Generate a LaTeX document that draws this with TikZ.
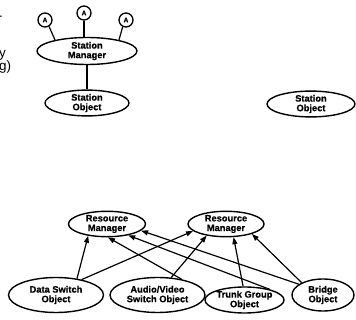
\documentclass[tikz,border=0pt]{standalone}
\usepackage{fontspec}
\setmainfont{Liberation Sans}
\newfontfamily\labelfont{Liberation Sans}[BoldFeatures={FakeBold=0.6}]
\usetikzlibrary{shapes.geometric,arrows.meta}
\begin{document}
\begin{tikzpicture}[x=1pt,y=-1pt,
  obj/.style={ellipse,draw,line width=1.4pt,inner sep=0pt,align=center,
    font=\labelfont\fontsize{9.3}{9.6}\selectfont\bfseries},
  port/.style={circle,draw,line width=1.3pt,minimum size=14pt,inner sep=0pt,
    font=\labelfont\fontsize{6.5}{6.5}\selectfont\bfseries},
  link/.style={line width=1.2pt},
  uses/.style={line width=1.2pt,-{Triangle[length=7pt,width=5pt]}},
  frag/.style={anchor=base west,inner sep=0pt,font=\fontsize{13.5}{14}\selectfont}]
\fill[white] (0,0) rectangle (356,320);
\useasboundingbox (0,0) rectangle (356,320);

% cut-off caption text at the left edge
\node[frag] (t0) at (-1,18) {.};
\node[frag] (t1) at (-1,58) {y};
\node[frag] (t2) at (-1,71) {g)};

% station side
\node[port] (c1) at (45,20) {A};
\node[port] (c2) at (84,13) {A};
\node[port] (c3) at (126,20) {A};
\node[obj,minimum width=100pt,minimum height=27pt] (sm) at (87,51) {Station\\Manager};
\node[obj,minimum width=84pt,minimum height=25pt] (so) at (87,103) {Station\\Object};
\node[obj,minimum width=88pt,minimum height=24pt] (so2) at (311,104) {Station\\Object};

\draw[link] (c1.302) -- (sm.161);
\draw[link] (c2.south) -- (c2.south |- sm.north);
\draw[link] (c3.244) -- (sm.19);
\draw[link] (sm.south) -- (so.north);

% resource side
\node[obj,minimum width=77pt,minimum height=25pt] (rm1) at (107,224) {Resource\\Manager};
\node[obj,minimum width=76pt,minimum height=24pt] (rm2) at (226,224) {Resource\\Manager};
\node[obj,minimum width=95pt,minimum height=35pt] (ds) at (56,295) {Data Switch\\Object};
\node[obj,minimum width=95pt,minimum height=35pt] (av) at (157.5,295) {Audio/Video\\Switch Object};
\node[obj,minimum width=79pt,minimum height=26pt] (tg) at (244.5,300) {Trunk Group\\Object};
\node[obj,minimum width=62pt,minimum height=32pt] (br) at (323,295) {Bridge\\Object};

\draw[uses] (ds.38.7) -- (rm1.212.9);
\draw[uses] (ds.31.6) -- (rm2.192.5);
\draw[uses] (av.52) -- (rm2.211.4);
\draw[uses] (av.33.7) -- (rm1.274.4);
\draw[uses] (tg.23) -- (rm1.332.4);
\draw[uses] (br.156.5) -- (rm1.349.7);
\draw[uses] (tg.96.6) -- (rm2.300);
\draw[uses] (br.150) -- (rm2.339.4);
\end{tikzpicture}
\end{document}
